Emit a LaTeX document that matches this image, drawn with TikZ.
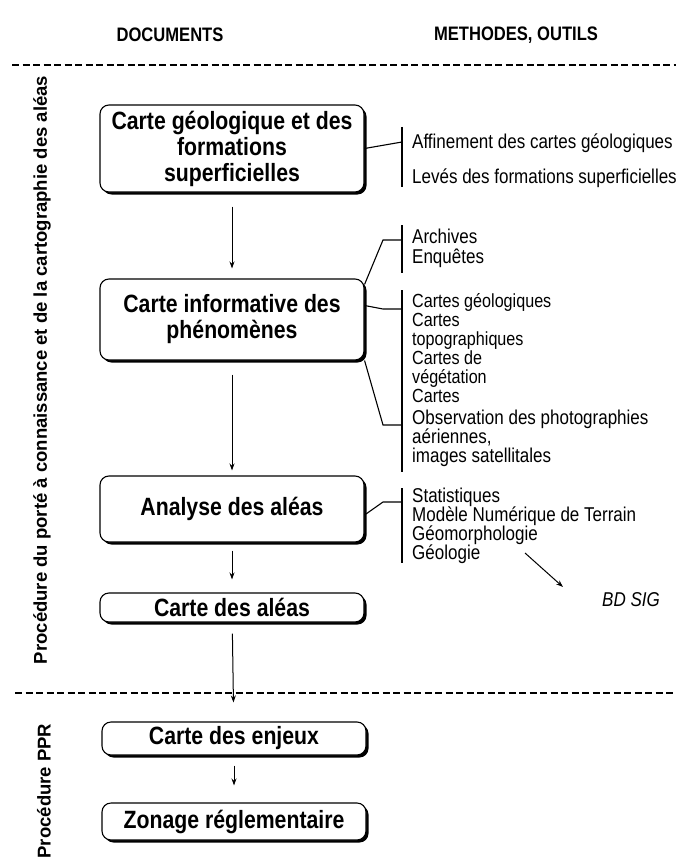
\documentclass[tikz,border=0pt]{standalone}
\usepackage{fontspec}
\setmainfont{Liberation Sans}[FakeStretch=0.85]
\newfontfamily\sidefont{Liberation Sans}
\usetikzlibrary{arrows.meta,shadows}

\newcommand\boxfont{\bfseries\fontsize{25}{26}\selectfont}
\newcommand\listfont{\fontsize{20}{19}\selectfont}
\newcommand\headfont{\bfseries\fontsize{19.5}{20}\selectfont}
\newcommand\sidelabelfont{\sidefont\bfseries\fontsize{18.5}{20}\selectfont}

\begin{document}
\begin{tikzpicture}[
              x = 1pt, y = -1pt,
              >={Stealth[length=7pt, width=5pt]},
              docbox/.style = {draw, fill=white, line width=1.1pt, rounded corners=9pt,
                               minimum width=264pt, align=center, font=\boxfont,
                               drop shadow={shadow xshift=2.5pt, shadow yshift=-2.5pt, fill=black, opacity=1}},
              items/.style = {anchor=west, align=left, inner sep=0pt, font=\listfont},
              bracket/.style = {line width=1.1pt},
              sep/.style = {line width=2.8pt, dash pattern=on 7pt off 3.5pt},
              flow/.style = {->, line width=1pt}
            ]
            \useasboundingbox (0,0) rectangle (676,861);
            % headings
            \node[font=\headfont] (docs) at (170,35) {DOCUMENTS};
            \node[font=\headfont] (meth) at (516,35) {METHODES, OUTILS};
            % separators
            \coordinate (sepAl) at (12,65);
            \coordinate (sepAr) at (676,65);
            \coordinate (sepBl) at (15,693);
            \coordinate (sepBr) at (676,693);
            \draw[sep] (sepAl) -- (sepAr);
            \draw[sep] (sepBl) -- (sepBr);
            % procedures
            \node[rotate=90, font=\sidelabelfont] (proc) at (42,370) {Procédure du porté à connaissance et de la cartographie des aléas};
            \node[rotate=90, font=\sidelabelfont] (ppr)  at (44,791) {Procédure PPR};
            % documents
            \node[docbox, minimum height=87pt] (geol) at (232,148.5) {Carte géologique et des\\formations\\superficielles};
            \node[docbox, minimum height=81pt] (info) at (232,319.5) {Carte informative des\\phénomènes};
            \node[docbox, minimum height=66pt] (anal) at (232,509)   {Analyse des aléas};
            \node[docbox, minimum height=29pt, inner sep=2pt] (alea) at (232,607.5) {Carte des aléas};
            \node[docbox, minimum height=33pt, inner sep=2pt] (enj)  at (234,738.5) {Carte des enjeux};
            \node[docbox, minimum height=37pt, inner sep=2pt] (zon)  at (234,821.5) {Zonage réglementaire};
            % the flow of documents
            \draw[flow, shorten <=14pt, shorten >=10pt] (geol) -- (info);
            \draw[flow, shorten <=14pt, shorten >=5pt]  (info) -- (anal);
            \draw[flow, shorten <=8pt,  shorten >=13pt] (anal) -- (alea);
            \draw[flow, shorten <=11pt, shorten >=19pt] (alea) -- (enj);
            \draw[flow, shorten <=10pt, shorten >=17pt] (enj)  -- (zon);
            % methods and tools
            \node[items] (aff)    at (412,143)   {Affinement des cartes géologiques};
            \node[items] (lev)    at (412,178)   {Levés des formations superficielles};
            \node[items, font=\fontsize{20}{20}\selectfont] (arch) at (412,248) {Archives\\Enquêtes};
            \node[items, font=\fontsize{19}{19}\selectfont] (cartes) at (412,348) {Cartes géologiques\\Cartes\\topographiques\\Cartes de\\végétation\\Cartes};
            \node[items] (obs)    at (412,438) {Observation des photographies\\aériennes,\\images satellitales};
            \node[items] (stat)   at (412,526)   {Statistiques\\Modèle Numérique de Terrain\\Géomorphologie\\Géologie};
            \node[items, font=\listfont\itshape] (bdsig) at (602,600) {BD SIG};
            % brackets
            \coordinate (b1t) at (402,127);
            \coordinate (b1m) at (402,142);
            \coordinate (b1b) at (402,187);
            \coordinate (b2t) at (402,225);
            \coordinate (b2m) at (402,240);
            \coordinate (b2b) at (402,273);
            \coordinate (b3t) at (402,290);
            \coordinate (b3m) at (402,309);
            \coordinate (b3l) at (402,425);
            \coordinate (b3b) at (402,472);
            \coordinate (b4t) at (402,488);
            \coordinate (b4m) at (402,502);
            \coordinate (b4b) at (402,563);
            \coordinate (k2) at (383,240);
            \coordinate (k3) at (383,309);
            \coordinate (k4) at (383,425);
            \coordinate (k5) at (383,502);
            \draw[bracket] (b1t) -- (b1b);
            \draw[bracket] (b2t) -- (b2b);
            \draw[bracket] (b3t) -- (b3b);
            \draw[bracket] (b4t) -- (b4b);
            \draw[bracket] (geol.east) -- (b1m);
            \draw[bracket] ([yshift=-6pt]info.north east) -- (k2) -- (b2m);
            \draw[bracket] ([yshift=14pt]info.east) -- (k3) -- (b3m);
            \draw[bracket] (info.south east) -- (k4) -- (b3l);
            \draw[bracket] ([yshift=-6pt]anal.east) -- (k5) -- (b4m);
            % towards the GIS
            \coordinate (sigfrom) at (525,553);
            \coordinate (sigto)   at (563,587);
            \draw[flow] (sigfrom) -- (sigto);
          \end{tikzpicture}
\end{document}
